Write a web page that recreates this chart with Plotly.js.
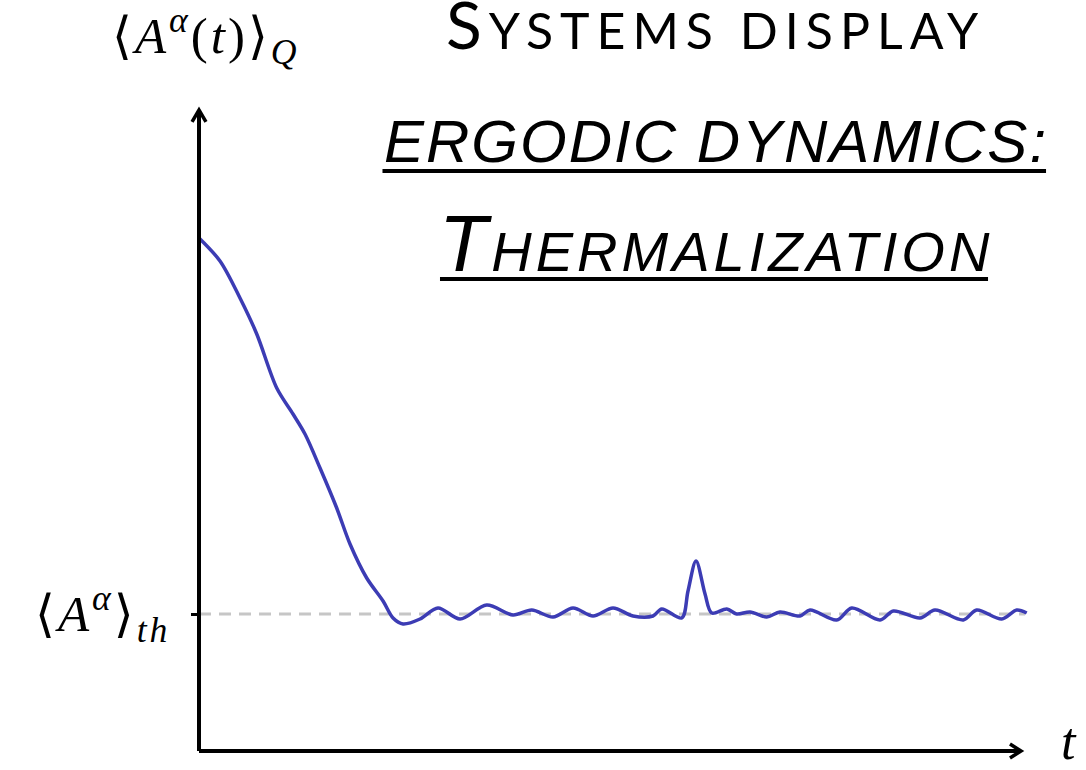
<!DOCTYPE html>
<html>
<head>
<meta charset="utf-8">
<script src="https://cdn.plot.ly/plotly-3.0.1.min.js"></script>
<style>
  html, body { margin: 0; padding: 0; background: #ffffff; }
  #chart { width: 1086px; height: 770px; }
</style>
</head>
<body>
<div id="chart"></div>
<script>
// Time axis values (arbitrary units)
const timeValues = [0.00, 0.254, 0.496, 0.699, 0.941, 1.138, 1.283, 1.465, 1.667, 1.828, 2.030, 2.228, 2.349, 2.470, 2.676, 2.893, 3.160, 3.483, 3.801, 4.028, 4.286, 4.528, 4.770, 5.012, 5.254, 5.496, 5.602, 5.844, 5.920, 6.017, 6.126, 6.207, 6.389, 6.509, 6.671, 6.873, 7.034, 7.276, 7.397, 7.720, 7.902, 8.245, 8.406, 8.729, 8.910, 9.253, 9.415, 9.718, 9.899, 10.02];
// Expectation value <A^alpha(t)>_Q
const expectationValues = [5.13, 4.90, 4.53, 4.17, 3.63, 3.37, 3.17, 2.83, 2.43, 2.07, 1.73, 1.50, 1.33, 1.27, 1.32, 1.43, 1.32, 1.46, 1.36, 1.41, 1.34, 1.43, 1.35, 1.43, 1.35, 1.35, 1.42, 1.33, 1.60, 1.90, 1.57, 1.38, 1.42, 1.37, 1.39, 1.34, 1.39, 1.35, 1.41, 1.31, 1.43, 1.31, 1.40, 1.33, 1.41, 1.31, 1.41, 1.32, 1.41, 1.38];
// Thermal expectation value
const thermalValue = 1.37;
const thermalSpan = [0, 10.0];
// Labels
const yLabel = "<span style='letter-spacing:3px'>⟨<i>A</i><sup><i>α</i></sup>(<i>t</i>)⟩<sub><i>Q</i></sub></span>";
const thermalLabel = "<span style='letter-spacing:3px'>⟨<i>A</i><sup><i>α</i></sup>⟩<sub><i>th</i></sub></span>";
const xLabel = "<i>t</i>";
const titleLines = [
  "<span style='letter-spacing:7px'><span style='font-size:66px'>S</span>YSTEMS DISPLAY</span>",
  "<span style='letter-spacing:2px'>ERGODIC DYNAMICS:</span>",
  "<span style='letter-spacing:4px'><span style='font-size:79px'>T</span>HERMALIZATION</span>"
];

const titleFont = "Liberation Sans, Arial, sans-serif";
const mathFont = "Liberation Serif, DejaVu Serif, serif";

const traces = [
  {
    x: thermalSpan,
    y: [thermalValue, thermalValue],
    mode: "lines",
    line: { color: "#c6c6c6", width: 3, dash: "12px,8px" },
    hoverinfo: "skip"
  },
  {
    x: timeValues,
    y: expectationValues,
    mode: "lines",
    line: { color: "#3c3cb4", width: 3.5, shape: "spline", smoothing: 0.9 },
    hoverinfo: "skip"
  }
];

const layout = {
  width: 1086,
  height: 770,
  margin: { l: 199, r: 56, t: 110, b: 19 },
  paper_bgcolor: "#ffffff",
  plot_bgcolor: "#ffffff",
  showlegend: false,
  xaxis: {
    range: [0, 10.06],
    showgrid: false, zeroline: false, showline: false,
    showticklabels: false, ticks: ""
  },
  yaxis: {
    range: [0, 6.41],
    showgrid: false, zeroline: false, showline: false,
    tickvals: [thermalValue], ticks: "outside", ticklen: 7, tickwidth: 3,
    tickcolor: "#000000", showticklabels: false
  },
  shapes: [
    { type: "line", xref: "paper", yref: "paper", x0: 0, x1: 0, y0: 0, y1: 1, line: { color: "#000", width: 4 } },
    { type: "line", xref: "paper", yref: "paper", x0: 0, x1: 0.9885, y0: 0, y1: 0, line: { color: "#000", width: 4 } },
    { type: "path", xref: "paper", yref: "paper", path: "M -0.0084,0.9813 L 0,1.0 L 0.0084,0.9813", line: { color: "#000", width: 3.5 } },
    { type: "path", xref: "paper", yref: "paper", path: "M 0.9759,0.0109 L 0.9892,0 L 0.9759,-0.0109", line: { color: "#000", width: 3.5 } },
    { type: "line", xref: "paper", yref: "paper", x0: 0.2208, x1: 1.0193, y0: 0.9048, y1: 0.9048, line: { color: "#000", width: 4 } },
    { type: "line", xref: "paper", yref: "paper", x0: 0.2900, x1: 0.9495, y0: 0.7363, y1: 0.7363, line: { color: "#000", width: 4 } }
  ],
  annotations: [
    { text: titleLines[0], xref: "paper", yref: "paper", x: 0.622, y: 1.0706, xanchor: "center", yanchor: "bottom",
      showarrow: false, font: { family: "Lato, " + titleFont, size: 50, color: "#000", weight: 400 } },
    { text: titleLines[1], xref: "paper", yref: "paper", x: 0.622, y: 0.8947, xanchor: "center", yanchor: "bottom",
      showarrow: false, font: { family: titleFont, size: 60, color: "#000", style: "italic" } },
    { text: titleLines[2], xref: "paper", yref: "paper", x: 0.622, y: 0.7185, xanchor: "center", yanchor: "bottom",
      showarrow: false, font: { family: titleFont, size: 56, color: "#000", style: "italic" } },
    { text: yLabel, xref: "paper", yref: "paper", x: 0.0084, y: 1.115, xanchor: "center", yanchor: "middle",
      showarrow: false, font: { family: mathFont, size: 51, color: "#000" } },
    { text: thermalLabel, xref: "paper", yref: "y", x: -0.032, y: thermalValue, xanchor: "right", yanchor: "middle",
      showarrow: false, font: { family: mathFont, size: 51, color: "#000" } },
    { text: xLabel, xref: "paper", yref: "paper", x: 1.047, y: 0.015, xanchor: "center", yanchor: "middle",
      showarrow: false, font: { family: mathFont, size: 52, color: "#000" } }
  ]
};

Plotly.newPlot("chart", traces, layout, { displayModeBar: false, staticPlot: true });
</script>
</body>
</html>
